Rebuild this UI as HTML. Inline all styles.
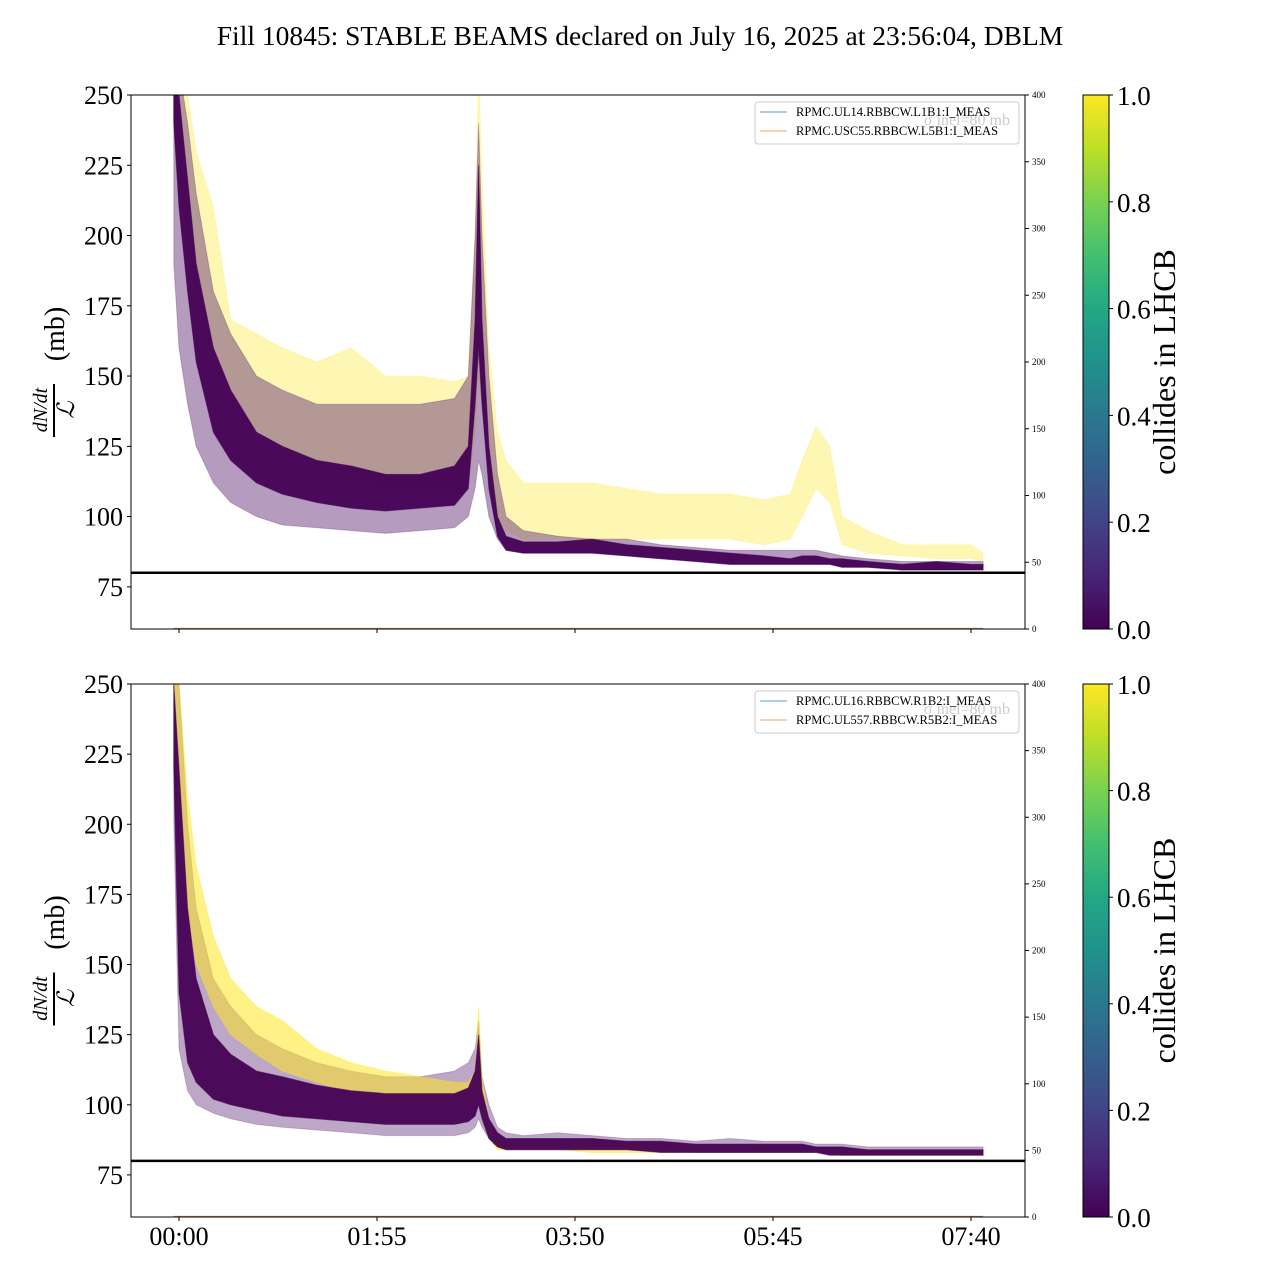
<!DOCTYPE html>
<html><head><meta charset="utf-8"><style>
body{margin:0;background:#fff}
svg{display:block;font-family:"Liberation Serif",serif}
</style></head><body>
<svg id="c" width="1280" height="1280" viewBox="0 0 1280 1280">
<defs>
<linearGradient id="vir" x1="0" y1="1" x2="0" y2="0">
<stop offset="0" stop-color="#440154"/><stop offset="0.1" stop-color="#482475"/><stop offset="0.2" stop-color="#414487"/><stop offset="0.3" stop-color="#355f8d"/><stop offset="0.4" stop-color="#2a788e"/><stop offset="0.5" stop-color="#21918c"/><stop offset="0.6" stop-color="#22a884"/><stop offset="0.7" stop-color="#44bf70"/><stop offset="0.8" stop-color="#7ad151"/><stop offset="0.9" stop-color="#bddf26"/><stop offset="1" stop-color="#fde725"/>
</linearGradient>
<clipPath id="cp0"><rect x="131" y="95" width="894" height="534"/></clipPath>
<clipPath id="cp1"><rect x="131" y="684" width="894" height="533"/></clipPath>
</defs>
<text x="640" y="45" font-size="27.5" text-anchor="middle">Fill 10845: STABLE BEAMS declared on July 16, 2025 at 23:56:04, DBLM</text>
</svg>
<script>
const times=[-3,0,5,10,20,30,45,60,80,100,120,140,160,168,172,174,176,180,185,190,200,220,240,260,280,300,320,340,355,362,370,378,385,400,420,440,460,467];
const xTickLabels=["00:00","01:55","03:50","05:45","07:40"];
const xTickMinutes=[0,115,230,345,460];
const yTicks=[75,100,125,150,175,200,225,250];
const rightTicks=[0,50,100,150,200,250,300,350,400];
const cbTicks=[0.0,0.2,0.4,0.6,0.8,1.0];
const topPurpleHigh=[260,260,240,215,180,165,150,145,140,140,140,140,142,150,200,240,200,150,115,100,95,93,92,92,90,89,88,88,88,88,88,87,86,85,84,84,84,84];
const topPurpleLow=[190,160,140,125,112,105,100,97,96,95,94,95,96,100,110,120,115,100,92,88,87,87,87,86,85,84,83,83,83,83,83,83,82,82,81,81,81,81];
const topCoreHigh=[260,250,220,190,160,145,130,125,120,118,115,115,118,125,170,225,170,125,100,93,91,91,92,90,89,88,87,86,85,86,86,85,85,84,83,84,83,83];
const topCoreLow=[240,210,180,155,130,120,112,108,105,103,102,103,104,110,140,160,140,110,93,88,87,87,87,86,85,84,83,83,83,83,83,83,82,82,81,81,81,81];
const topYellowHigh=[260,260,250,230,210,170,165,160,155,160,150,150,148,150,200,260,220,160,130,120,112,112,112,110,108,108,108,106,108,120,132,125,100,95,90,90,90,87];
const topYellowLow=[240,220,200,180,160,140,130,125,120,115,110,110,108,110,130,150,140,120,100,95,92,92,92,92,92,92,92,90,92,100,110,105,90,87,86,85,85,84];
const botPurpleHigh=[260,250,200,170,145,135,125,120,115,112,110,110,112,115,120,130,110,100,92,90,89,90,89,88,88,87,88,87,87,87,86,86,86,85,85,85,85,85];
const botPurpleLow=[200,120,105,100,97,95,93,92,91,90,89,89,89,90,92,95,92,88,85,84,84,84,84,84,84,83,83,83,83,83,83,83,82,82,82,82,82,82];
const botCoreHigh=[250,220,170,145,125,118,112,110,107,105,104,104,104,106,112,125,105,95,90,88,88,88,88,87,87,86,86,86,86,86,85,85,85,84,84,84,84,84];
const botCoreLow=[220,140,115,108,102,100,98,96,95,94,93,93,93,94,96,100,95,88,85,84,84,84,84,84,83,83,83,83,83,83,83,82,82,82,82,82,82,82];
const botYellowHigh=[260,250,210,185,160,145,135,130,120,115,112,110,108,108,112,135,110,95,88,87,87,86,86,86,85,85,85,84,84,84,84,84,84,84,83,83,83,83];
const botYellowLow=[230,200,170,150,135,125,118,112,108,104,100,100,100,100,100,105,95,88,84,84,84,84,83,83,83,83,83,83,83,83,83,83,82,82,82,82,82,82];
const refLine=80;
const legendTop=["RPMC.UL14.RBBCW.L1B1:I_MEAS","RPMC.USC55.RBBCW.L5B1:I_MEAS"];
const legendBot=["RPMC.UL16.RBBCW.R1B2:I_MEAS","RPMC.UL557.RBBCW.R5B2:I_MEAS"];

const svg=document.getElementById('c');
const NS='http://www.w3.org/2000/svg';
function mk(tag,attrs,parent){const e=document.createElementNS(NS,tag);for(const k in attrs)e.setAttribute(k,attrs[k]);(parent||svg).appendChild(e);return e;}
const X0=131,X1=1025;
function xs(t){return 179+t*198/115;}

function panel(idx,top,bottom,pH,pL,cH,cL,yH,yL,legend,yellowFirst){
  const ys=v=>bottom-(v-60)*(bottom-top)/190;
  const yr=v=>bottom-v*(bottom-top)/400;
  const g=mk('g',{'clip-path':'url(#cp'+idx+')'});
  
  
  function band(hi,lo,fill,op,name){
    let d='M'+times.map((t,i)=>xs(t).toFixed(1)+','+ys(hi[i]).toFixed(1)).join('L');
    for(let i=times.length-1;i>=0;i--)d+='L'+xs(times[i]).toFixed(1)+','+ys(lo[i]).toFixed(1);
    const p=mk('path',{d:d+'Z',fill:fill,'fill-opacity':op,stroke:fill,'stroke-opacity':op*0.6,'stroke-width':1},g);
    
    
  }
  if(yellowFirst){band(yH,yL,'#fde725',0.35,'yellow-band');band(pH,pL,'#5a2370',0.45,'purple-band');}
  else{band(pH,pL,'#5a2370',0.4,'purple-band');band(yH,yL,'#fde725',0.55,'yellow-band');}
  band(cH,cL,'#440154',0.95,'purple-core-band');
  const rl=mk('line',{x1:X0,x2:X1,y1:ys(refLine),y2:ys(refLine),stroke:'#000','stroke-width':2.5});
  
  
  const cur=mk('line',{x1:xs(-3),x2:xs(467),y1:yr(0.3),y2:yr(0.3),stroke:'#c08a50','stroke-width':1.5});
  
  
  const fr=mk('rect',{x:X0,y:top,width:X1-X0,height:bottom-top,fill:'none',stroke:'#000','stroke-width':1});
  
  
  yTicks.forEach(v=>{
    mk('line',{x1:X0-4,x2:X0,y1:ys(v),y2:ys(v),stroke:'#000'});
    const t=mk('text',{x:X0-8,y:ys(v)+9,'font-size':26,'text-anchor':'end'});t.textContent=v;
    
    
  });
  rightTicks.forEach(v=>{
    mk('line',{x1:X1,x2:X1+4,y1:yr(v),y2:yr(v),stroke:'#000'});
    const t=mk('text',{x:X1+7,y:yr(v)+3,'font-size':9});t.textContent=v;
    
    
  });
  xTickMinutes.forEach((m,i)=>{
    mk('line',{x1:xs(m),x2:xs(m),y1:bottom,y2:bottom+4,stroke:'#000'});
    if(idx===1){const t=mk('text',{x:xs(m),y:bottom+28,'font-size':26,'text-anchor':'middle'});t.textContent=xTickLabels[i];
    
    }
  });
  const yl=mk('g',{transform:'translate(60,'+((top+bottom)/2)+') rotate(-90)'});
  
  
  const a=mk('text',{x:-48,y:-13,'font-size':20,'font-style':'italic','text-anchor':'middle'},yl);a.textContent='dN/dt';
  mk('line',{x1:-75,x2:-22,y1:-6,y2:-6,stroke:'#000','stroke-width':2},yl);
  const b=mk('text',{x:-48,y:14,'font-size':24,'font-style':'italic','text-anchor':'middle'},yl);b.textContent='ℒ';
  const c=mk('text',{x:28,y:4,'font-size':28,'text-anchor':'middle'},yl);c.textContent='(mb)';
  const lg=mk('g',{});
  
  
  mk('rect',{x:755,y:top+7,width:264,height:42,rx:3,fill:'#fff','fill-opacity':0.85,stroke:'#ccc'},lg);
  const gh=mk('text',{x:1010,y:top+30,'font-size':16,fill:'#ccc','text-anchor':'end'},lg);gh.textContent='σ inel=80 mb';
  ['#5b9bd5','#f4a460'].forEach((col,i)=>{
    mk('line',{x1:760,x2:787,y1:top+17+i*19,y2:top+17+i*19,stroke:col,'stroke-width':1},lg);
    const t=mk('text',{x:796,y:top+21+i*19,'font-size':12.5},lg);t.textContent=legend[i];
    
    
  });
  const cb=mk('rect',{x:1083,y:top,width:26,height:bottom-top,fill:'url(#vir)',stroke:'#000'});
  
  
  cbTicks.forEach(v=>{
    const y=bottom-v*(bottom-top);
    mk('line',{x1:1109,x2:1113,y1:y,y2:y,stroke:'#000'});
    const t=mk('text',{x:1117,y:y+10,'font-size':27});t.textContent=v.toFixed(1);
    
    
  });
  const cl=mk('text',{x:0,y:0,'font-size':32,'text-anchor':'middle',transform:'translate(1175,'+((top+bottom)/2)+') rotate(-90)'});
  cl.textContent='collides in LHCB';
  
  
}
panel(0,95,629,topPurpleHigh,topPurpleLow,topCoreHigh,topCoreLow,topYellowHigh,topYellowLow,legendTop,true);
panel(1,684,1217,botPurpleHigh,botPurpleLow,botCoreHigh,botCoreLow,botYellowHigh,botYellowLow,legendBot,false);
</script>
</body></html>
